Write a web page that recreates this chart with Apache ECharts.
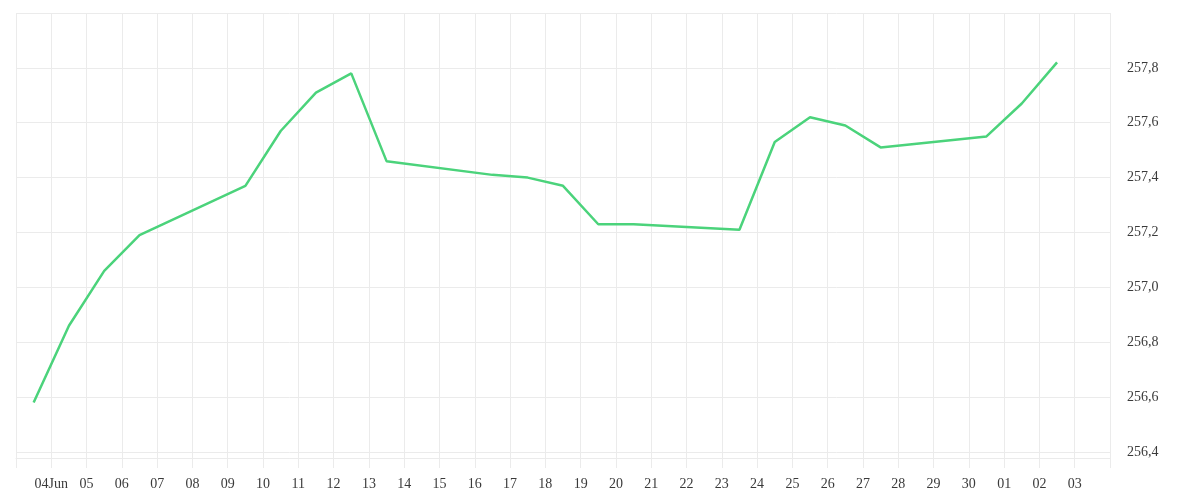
<!DOCTYPE html>
<html>
<head>
<meta charset="utf-8">
<script src="https://cdn.jsdelivr.net/npm/echarts@6/dist/echarts.min.js"></script>
<style>
html,body{margin:0;padding:0;background:#fff;}
#chart{width:1200px;height:500px;}
</style>
</head>
<body>
<div id="chart"></div>
<script>
// Data
const startDate = '2025-06-03';
const dates = [
  '2025-06-03','2025-06-04','2025-06-05','2025-06-06',
  '2025-06-09','2025-06-10','2025-06-11','2025-06-12','2025-06-13',
  '2025-06-16','2025-06-17','2025-06-18','2025-06-19','2025-06-20',
  '2025-06-23','2025-06-24','2025-06-25','2025-06-26','2025-06-27',
  '2025-06-30','2025-07-01','2025-07-02'
];
const values = [
  256.58, 256.86, 257.06, 257.19,
  257.37, 257.57, 257.71, 257.78, 257.46,
  257.41, 257.40, 257.37, 257.23, 257.23,
  257.21, 257.53, 257.62, 257.59, 257.51,
  257.55, 257.67, 257.82
];
const dayCount = 31; // axis spans Jun 3 .. Jul 4
const firstLabel = '04Jun';

const DAY = 86400000;
const t0 = Date.parse(startDate + 'T00:00:00Z');
function dayIndex(d) { return (Date.parse(d + 'T12:00:00Z') - t0) / DAY; }
const seriesData = dates.map((d, i) => [dayIndex(d), values[i]]);

const FONT = '"Liberation Serif", "DejaVu Serif", serif';
const GRID_COLOR = '#ebebeb';

const chart = echarts.init(document.getElementById('chart'), null, {renderer: 'canvas'});
chart.setOption({
  animation: false,
  backgroundColor: '#ffffff',
  grid: {left: 16, right: 90, top: 13, bottom: 42, containLabel: false},
  xAxis: {
    type: 'value',
    min: 0,
    max: dayCount,
    interval: 1,
    axisLine: {show: true, lineStyle: {color: GRID_COLOR, width: 1}},
    axisTick: {show: true, length: 10, lineStyle: {color: GRID_COLOR, width: 1}},
    splitLine: {show: true, lineStyle: {color: GRID_COLOR, width: 1}},
    axisLabel: {
      margin: 19,
      color: '#3a3a3a',
      fontFamily: FONT,
      fontSize: 14,
      showMinLabel: true,
      showMaxLabel: true,
      formatter: function (v) {
        const k = Math.round(v);
        if (k <= 0 || k >= dayCount) return '';
        if (k === 1) return firstLabel;
        const d = new Date(t0 + k * DAY);
        return String(d.getUTCDate()).padStart(2, '0');
      }
    }
  },
  yAxis: {
    type: 'value',
    position: 'right',
    min: 256.378,
    max: 258,
    splitNumber: 8,
    scale: true,
    axisLine: {show: false},
    axisTick: {show: false},
    splitLine: {show: true, lineStyle: {color: GRID_COLOR, width: 1}},
    axisLabel: {
      margin: 17,
      color: '#3a3a3a',
      fontFamily: FONT,
      fontSize: 14,
      formatter: function (v) {
        if (Math.abs(v - 258) < 1e-6) return '';
        if (Math.abs(v * 5 - Math.round(v * 5)) > 1e-6) return '';
        return v.toFixed(1).replace('.', ',');
      }
    }
  },
  series: [{
    type: 'line',
    data: seriesData,
    showSymbol: false,
    smooth: false,
    lineStyle: {color: '#4bd37b', width: 2.5},
    itemStyle: {color: '#4bd37b'}
  }]
});
</script>
</body>
</html>
